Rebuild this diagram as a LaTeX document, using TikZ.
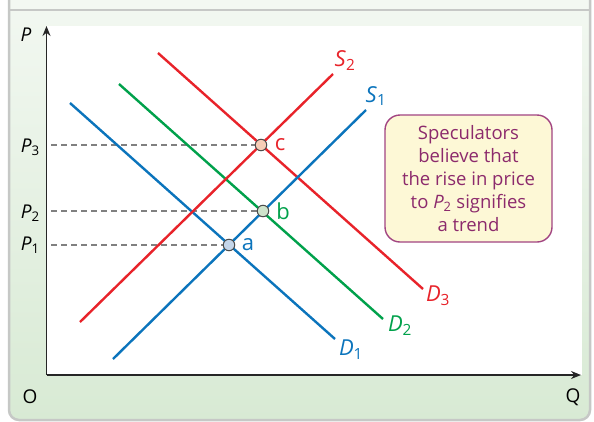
\documentclass[tikz,border=0pt]{standalone}
\usepackage{fontspec}
\setmainfont{Open Sans}
\usetikzlibrary{arrows.meta}
\definecolor{cred}{HTML}{E8232A}
\definecolor{cblue}{HTML}{0B74BC}
\definecolor{cgreen}{HTML}{00A14B}
\definecolor{ptop}{HTML}{F3F8F2}
\definecolor{pbot}{HTML}{D8EAD4}
\definecolor{pborder}{HTML}{C6C8C6}
\definecolor{boxfill}{HTML}{FDF8D6}
\definecolor{boxdraw}{HTML}{A24582}
\definecolor{boxtext}{HTML}{8C2A6C}
\definecolor{ptA}{HTML}{C4D6EA}
\definecolor{ptB}{HTML}{CEE3CB}
\definecolor{ptC}{HTML}{F7CDB6}
\newcommand{\lbl}[2]{\textit{#1}\textsubscript{#2}}
\tikzset{
  curve/.style={line width=2.4pt},
  axisline/.style={line width=1.4pt, draw=black!85, -{Stealth[length=10pt,width=8pt]}},
  guide/.style={draw=black!50, line width=1.1pt, dash pattern=on 6pt off 4pt},
  eqpt/.style={circle, draw=black!70, line width=1pt, minimum size=11.5pt, inner sep=0pt},
  axlab/.style={inner sep=0pt, font=\fontsize{19}{22}\selectfont},
  curvelab/.style={inner sep=0pt, font=\fontsize{22}{24}\selectfont},
}
\begin{document}
\begin{tikzpicture}[x=1pt,y=-1pt]
\useasboundingbox (0,0) rectangle (594,421);
\fill[white] (0,0) rectangle (594,421);
% panel
\shade[top color=ptop, bottom color=pbot, rounded corners=10pt] (9,-12) rectangle (590,420);
\fill[ptop] (9,0) rectangle (590,10);
\draw[pborder, line width=2.5pt, rounded corners=10pt] (9,-12) rectangle (590,420);
\draw[pborder, line width=2.5pt] (9,10) -- (590,10);
% plot area
\fill[white] (47,26) rectangle (582,375);
% axes
\coordinate (orig) at (46.5,375);
\coordinate (ytip) at (46.5,26);
\coordinate (xtip) at (581,375);
\draw[axisline] (orig) -- (ytip);
\draw[axisline] (orig) -- (xtip);
\node[axlab] (Plab) at (26,35) {\textit{P}};
\node[axlab] (Olab) at (30,397) {O};
\node[axlab] (Qlab) at (573,397) {Q};
% curve end points
\coordinate (d1a) at (70,103);  \coordinate (d1b) at (335,339);
\coordinate (d2a) at (119,84);  \coordinate (d2b) at (383,319);
\coordinate (d3a) at (158,53);  \coordinate (d3b) at (423,289);
\coordinate (s1a) at (113,359); \coordinate (s1b) at (366,110);
\coordinate (s2a) at (80,322);  \coordinate (s2b) at (333,74);
% guide starts
\coordinate (g3) at (51,145);
\coordinate (g2) at (51,211);
\coordinate (g1) at (51,245);
% equilibrium nodes positions
\coordinate (pa) at (229,245);
\coordinate (pb) at (263,211);
\coordinate (pc) at (261,145);
\draw[guide] (g3) -- (pc);
\draw[guide] (g2) -- (pb);
\draw[guide] (g1) -- (pa);
% curves
\draw[curve, cblue] (d1a) -- (d1b);
\draw[curve, cgreen] (d2a) -- (d2b);
\draw[curve, cred] (d3a) -- (d3b);
\draw[curve, cblue] (s1a) -- (s1b);
\draw[curve, cred] (s2a) -- (s2b);
% points
\node[eqpt, fill=ptA] (A) at (pa) {};
\node[eqpt, fill=ptB] (B) at (pb) {};
\node[eqpt, fill=ptC] (C) at (pc) {};
\node[curvelab, text=cblue] (alab) at (248,245) {a};
\node[curvelab, text=cgreen] (blab) at (283,211) {b};
\node[curvelab, text=cred] (clab) at (280,145) {c};
% price labels
\node[axlab, anchor=base east] (P3) at (40,152) {\lbl{P}{3}};
\node[axlab, anchor=base east] (P2) at (40,218) {\lbl{P}{2}};
\node[axlab, anchor=base east] (P1) at (40,250) {\lbl{P}{1}};
% curve labels
\node[curvelab, text=cred] (S2lab) at (345,61) {\lbl{S}{2}};
\node[curvelab, text=cblue] (S1lab) at (376,96) {\lbl{S}{1}};
\node[curvelab, text=cred] (D3lab) at (438,296) {\lbl{D}{3}};
\node[curvelab, text=cgreen] (D2lab) at (400,326) {\lbl{D}{2}};
\node[curvelab, text=cblue] (D1lab) at (351,350) {\lbl{D}{1}};
% note box
\node[draw=boxdraw, fill=boxfill, line width=1.4pt, rounded corners=15pt,
      minimum width=167pt, minimum height=127pt, inner sep=0pt,
      text=boxtext, align=center, font=\fontsize{18.5}{22.8}\selectfont] (note) at (468.5,178.5)
  {Speculators\\believe that\\the rise in price\\to \lbl{P}{2} signifies\\a trend};
\end{tikzpicture}
\end{document}
